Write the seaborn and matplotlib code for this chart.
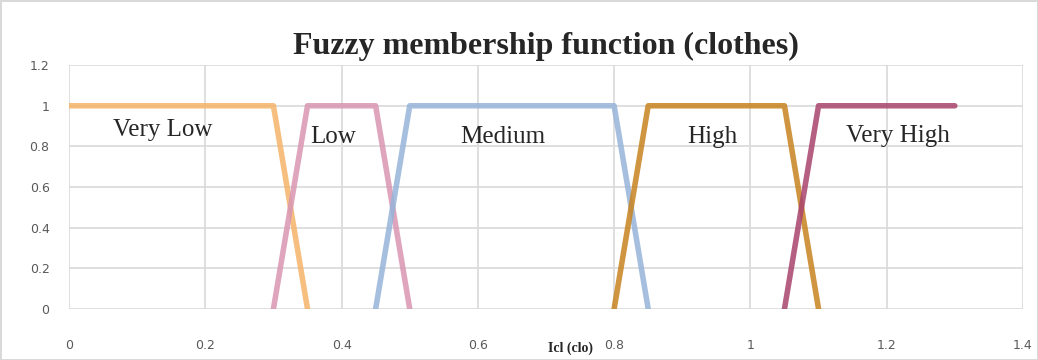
import pandas as pd
import seaborn as sns
import matplotlib.pyplot as plt

# membership function breakpoints
very_low_x = [0, 0.3, 0.35]
very_low_y = [1, 1, 0]
low_x = [0.3, 0.35, 0.45, 0.5]
low_y = [0, 1, 1, 0]
medium_x = [0.45, 0.5, 0.8, 0.85]
medium_y = [0, 1, 1, 0]
high_x = [0.8, 0.85, 1.05, 1.1]
high_y = [0, 1, 1, 0]
very_high_x = [1.05, 1.1, 1.3]
very_high_y = [0, 1, 1]

series_names = ["Very Low", "Low", "Medium", "High", "Very High"]
series_x = [very_low_x, low_x, medium_x, high_x, very_high_x]
series_y = [very_low_y, low_y, medium_y, high_y, very_high_y]
colors = ["#F5B46A", "#D996B2", "#97B4DA", "#C8831F", "#A8436C"]

rows = []
for name, xs, ys in zip(series_names, series_x, series_y):
    for i, (x, y) in enumerate(zip(xs, ys)):
        rows.append({"set": name, "x": x, "mu": y, "order": i})
df = pd.DataFrame(rows)

sns.set_style("white")
plt.rcParams['font.family'] = ['Liberation Serif', 'DejaVu Serif']

fig = plt.figure(figsize=(10.38, 3.6), dpi=100)
fig.patch.set_edgecolor("#D9D9D9")
fig.patch.set_linewidth(2)
ax = fig.add_axes([0.0665, 0.142, 0.919, 0.677])

sns.lineplot(data=df, x="x", y="mu", hue="set", palette=colors, sort=False,
             estimator=None, units="set", linewidth=4, alpha=0.85,
             legend=False, ax=ax)

ax.set_xlim(0, 1.4)
ax.set_ylim(0, 1.2)
ax.set_xticks([0, 0.2, 0.4, 0.6, 0.8, 1, 1.2, 1.4])
ax.set_xticklabels(["0", "0.2", "0.4", "0.6", "0.8", "1", "1.2", "1.4"])
ax.set_yticks([0, 0.2, 0.4, 0.6, 0.8, 1, 1.2])
ax.set_yticklabels(["0", "0.2", "0.4", "0.6", "0.8", "1", "1.2"])
ax.grid(True, color="#D9D9D9", linewidth=1.2)
for s in ax.spines.values():
    s.set_visible(False)
ax.tick_params(axis="both", length=0, labelsize=9, colors="#595959")
ax.tick_params(axis="x", pad=22)
ax.tick_params(axis="y", pad=14)
for lab in ax.get_xticklabels() + ax.get_yticklabels():
    lab.set_family("DejaVu Sans")

ax.set_xlabel("Icl (clo)", fontsize=10, fontweight="bold")
ax.xaxis.set_label_coords(0.526, -0.135)
ax.set_ylabel("")
ax.set_title("Fuzzy membership function (clothes)", fontsize=23,
             fontweight="bold", pad=8)

labels_x = [0.137, 0.388, 0.636, 0.944, 1.217]
labels_y = [0.88, 0.845, 0.845, 0.845, 0.85]
for name, lx, ly in zip(series_names, labels_x, labels_y):
    ax.text(lx, ly, name, ha="center", va="center", fontsize=18)

fig.savefig("out.png", dpi=100)
